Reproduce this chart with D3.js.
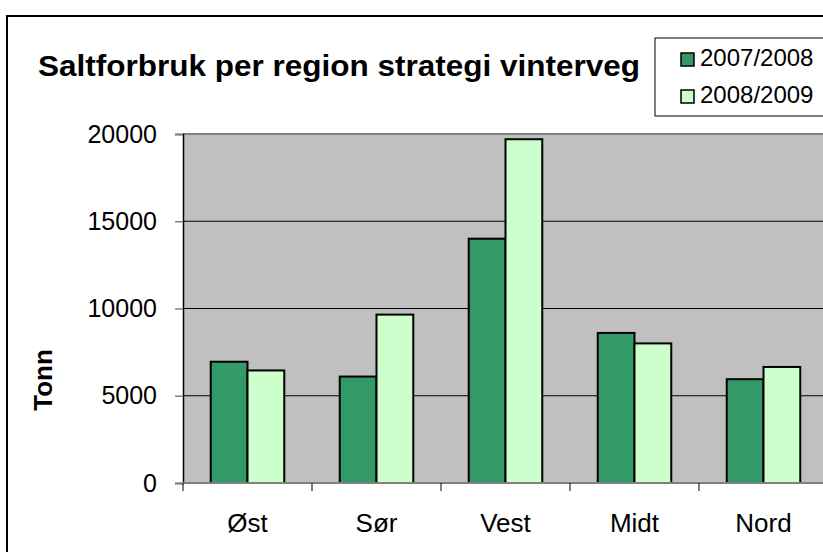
<!DOCTYPE html>
<html><head><meta charset="utf-8">
<script src="https://cdn.jsdelivr.net/npm/d3@7"></script>
<style>body{margin:0;background:#fff}svg{display:block}</style>
</head><body>
<svg id="c" width="823" height="552"></svg>
<script>
const categories = ["Øst", "Sør", "Vest", "Midt", "Nord"];
const seriesNames = ["2007/2008", "2008/2009"];
const values2007 = [6950, 6100, 14000, 8600, 5950];
const values2008 = [6450, 9650, 19700, 8000, 6650];
const yTicks = [0, 5000, 10000, 15000, 20000];
const colors = ["#339966", "#CCFFCC"];

const svg = d3.select("#c");
const font = "Liberation Sans, Arial, sans-serif";

// outer border
svg.append("rect").attr("x", 7).attr("y", 16).attr("width", 830).attr("height", 560)
  .attr("fill", "#fff").attr("stroke", "#000").attr("stroke-width", 2);

const x0 = 183, x1 = 828, yTop = 134, yBot = 483;
const x = d3.scaleBand().domain(categories).range([x0, x1]).paddingInner(0.43).paddingOuter(0.215);
const xs = d3.scaleBand().domain(seriesNames).range([0, x.bandwidth()]);
const y = d3.scaleLinear().domain([0, 20000]).range([yBot, yTop]);

// plot area
svg.append("rect").attr("x", x0).attr("y", yTop).attr("width", x1 - x0).attr("height", yBot - yTop)
  .attr("fill", "#C0C0C0");
svg.append("line").attr("x1", x0).attr("x2", x1).attr("y1", yTop).attr("y2", yTop)
  .attr("stroke", "#808080").attr("stroke-width", 2);

// gridlines
svg.append("g").selectAll("line").data(yTicks.filter(t => t > 0 && t < 20000)).join("line")
  .attr("x1", x0).attr("x2", x1).attr("y1", d => y(d)).attr("y2", d => y(d))
  .attr("stroke", "#000").attr("stroke-width", 1);

// bars
const data = categories.map((c, i) => ({cat: c, vals: [values2007[i], values2008[i]]}));
const g = svg.append("g");
data.forEach(d => {
  d.vals.forEach((v, j) => {
    g.append("rect")
      .attr("x", x(d.cat) + xs(seriesNames[j]))
      .attr("y", y(v))
      .attr("width", xs.bandwidth())
      .attr("height", y(0) - y(v))
      .attr("fill", colors[j]).attr("stroke", "#000").attr("stroke-width", 2);
  });
});

// y axis
const yAxis = d3.axisLeft(y).tickValues(yTicks).tickSize(8).tickPadding(18).tickFormat(d3.format("d"));
const ya = svg.append("g").attr("transform", `translate(${x0},0)`).call(yAxis);
ya.select(".domain").attr("stroke", "#000").attr("stroke-width", 1.5);
ya.selectAll(".tick line").attr("stroke", "#808080").attr("stroke-width", 1.5);
ya.selectAll(".tick text").attr("font-family", font).attr("font-size", 25).attr("fill", "#000");

// x axis
const xa = svg.append("g").attr("transform", `translate(0,${yBot})`);
xa.append("line").attr("x1", x0).attr("x2", x1).attr("y1", 0).attr("y2", 0)
  .attr("stroke", "#808080").attr("stroke-width", 2);
const bounds = categories.map(c => x(c) - x.step() * x.paddingOuter());
bounds.push(x1);
xa.selectAll("line.tk").data(bounds).join("line").attr("class", "tk")
  .attr("x1", d => d).attr("x2", d => d).attr("y1", 0).attr("y2", 8)
  .attr("stroke", "#000").attr("stroke-width", 1);
xa.selectAll("text").data(categories).join("text")
  .attr("x", d => x(d) + x.bandwidth() / 2).attr("y", 49)
  .attr("text-anchor", "middle").attr("font-family", font).attr("font-size", 26).text(d => d);

// y title
svg.append("text").attr("transform", "translate(52,380) rotate(-90)")
  .attr("text-anchor", "middle").attr("font-family", font).attr("font-weight", "bold")
  .attr("font-size", 26).text("Tonn");

// title
svg.append("text").attr("x", 38).attr("y", 76).attr("font-family", font).attr("font-weight", "bold")
  .attr("font-size", 30).attr("textLength", 602).attr("lengthAdjust", "spacingAndGlyphs")
  .text("Saltforbruk per region strategi vinterveg");

// legend
const lg = svg.append("g");
lg.append("rect").attr("x", 655).attr("y", 38).attr("width", 200).attr("height", 78)
  .attr("fill", "#fff").attr("stroke", "#000").attr("stroke-width", 1);
seriesNames.forEach((s, i) => {
  const yy = 53 + i * 37;
  lg.append("rect").attr("x", 681).attr("y", yy).attr("width", 13).attr("height", 13)
    .attr("fill", colors[i]).attr("stroke", "#000").attr("stroke-width", 1.5);
  lg.append("text").attr("x", 700).attr("y", yy + 13).attr("font-family", font)
    .attr("font-size", 24).text(s);
});
</script>
</body></html>
